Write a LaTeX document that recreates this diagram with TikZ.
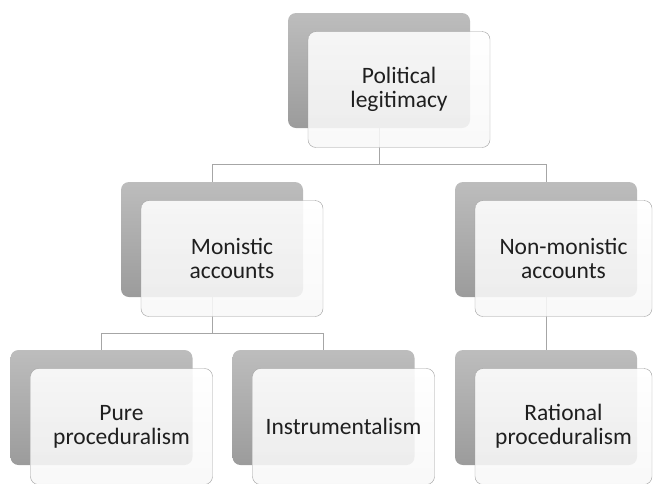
\documentclass[tikz,border=0pt]{standalone}
\usepackage{fontspec}
\setmainfont{Carlito}
\usetikzlibrary{calc}

\begin{document}
\begin{tikzpicture}[x=1pt, y=-1pt,
    back/.style={rounded corners=8pt, minimum width=182pt, minimum height=115pt, top color=gray!52, bottom color=gray!78, draw=none},
    front/.style={draw=gray!75, rounded corners=8pt, minimum width=182pt, minimum height=116pt, top color=white, bottom color=gray!6, fill opacity=0.88, text opacity=1, align=center, font=\fontsize{23.5pt}{24pt}\selectfont, text=black!88},
    narrow/.style={minimum width=177pt},
    link/.style={draw=gray!70, line width=0.9pt}
  ]
    \useasboundingbox (0,0) rectangle (653,483);
    % back plates
    \node[back] (pl) at (379,70.5) {};
    \node[back] (ma) at (212,239.5) {};
    \node[back] (na) at (546,239.5) {};
    \node[back] (pp) at (101.5,407.5) {};
    \node[back] (in) at (323.5,407.5) {};
    \node[back] (rp) at (546,407.5) {};
    % links
    \draw[link] (pl.south) -- ++(0,36) -| (ma.north);
    \draw[link] (pl.south) -- ++(0,36) -| (na.north);
    \draw[link] (ma.south) -- ++(0,36) -| (pp.north);
    \draw[link] (ma.south) -- ++(0,36) -| (in.north);
    \draw[link] (na.south) -- (rp.north);
    % front cards
    \node[front] (plf) at ([shift={(20pt,-19pt)}]pl.center) {Political\\legitimacy};
    \node[front] (maf) at ([shift={(20pt,-19pt)}]ma.center) {Monistic\\accounts};
    \node[front, narrow] (naf) at ([shift={(17.5pt,-19pt)}]na.center) {Non-monistic\\accounts};
    \node[front] (ppf) at ([shift={(20pt,-19pt)}]pp.center) {Pure\\proceduralism};
    \node[front] (inf) at ([shift={(20pt,-19pt)}]in.center) {Instrumentalism};
    \node[front, narrow] (rpf) at ([shift={(17.5pt,-19pt)}]rp.center) {Rational\\proceduralism};
  \end{tikzpicture}
\end{document}
